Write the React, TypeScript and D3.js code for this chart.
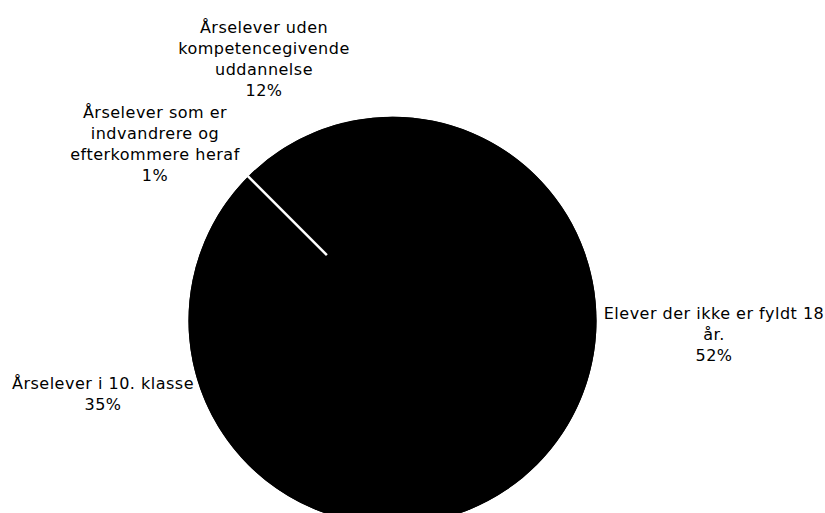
import React from "react";
import * as d3 from "d3";

// slice order clockwise from 12 o'clock
const categories = [
  "Elever der ikke er fyldt 18 år.",
  "Årselever i 10. klasse",
  "Årselever som er indvandrere og efterkommere heraf",
  "Årselever uden kompetencegivende uddannelse",
];
const shares = [52, 35, 1, 12];
const labelLines = [
  ["Elever der ikke er fyldt 18", "år.", "52%"],
  ["Årselever i 10. klasse", "35%"],
  ["Årselever som er", "indvandrere og", "efterkommere heraf", "1%"],
  ["Årselever uden", "kompetencegivende", "uddannelse", "12%"],
];

const W = 825;
const H = 513;
const cx = 392.5;
const cy = 320.7;
const R = 204;

// label anchor (centre x, first baseline y) per slice
const labelPos = [
  { x: 714, y: 319 },
  { x: 103, y: 389 },
  { x: 155, y: 118 },
  { x: 264, y: 33 },
];

export default function App() {
  const pie = d3
    .pie<number>()
    .sort(null)
    .value((d) => d);
  const arcs = pie(shares);
  const arcGen = d3.arc<d3.PieArcDatum<number>>().innerRadius(0).outerRadius(R);

  // the 1% slice shows as a thin white radial line
  const small = arcs[2];
  const mid = (small.startAngle + small.endAngle) / 2;
  const rInner = R * 0.455;

  return (
    <svg
      width={W}
      height={H}
      style={{ position: "absolute", left: 0, top: 0, background: "#fff" }}
      fontFamily="DejaVu Sans, Verdana, sans-serif"
    >
      <g transform={`translate(${cx},${cy})`}>
        <circle r={R} fill="#000" />
        {arcs.map((a, i) => (
          <path key={categories[i]} d={arcGen(a) || ""} fill="#000" />
        ))}
        <line
          x1={Math.sin(mid) * (R + 0.5)}
          y1={-Math.cos(mid) * (R + 0.5)}
          x2={Math.sin(mid) * rInner}
          y2={-Math.cos(mid) * rInner}
          stroke="#fff"
          strokeWidth={2.5}
        />
      </g>
      {labelLines.map((lines, i) => (
        <text key={i} textAnchor="middle" fontSize={16} letterSpacing={0.5} fill="#000">
          {lines.map((l, j) => (
            <tspan key={j} x={labelPos[i].x} y={labelPos[i].y + j * 21}>
              {l}
            </tspan>
          ))}
        </text>
      ))}
    </svg>
  );
}
